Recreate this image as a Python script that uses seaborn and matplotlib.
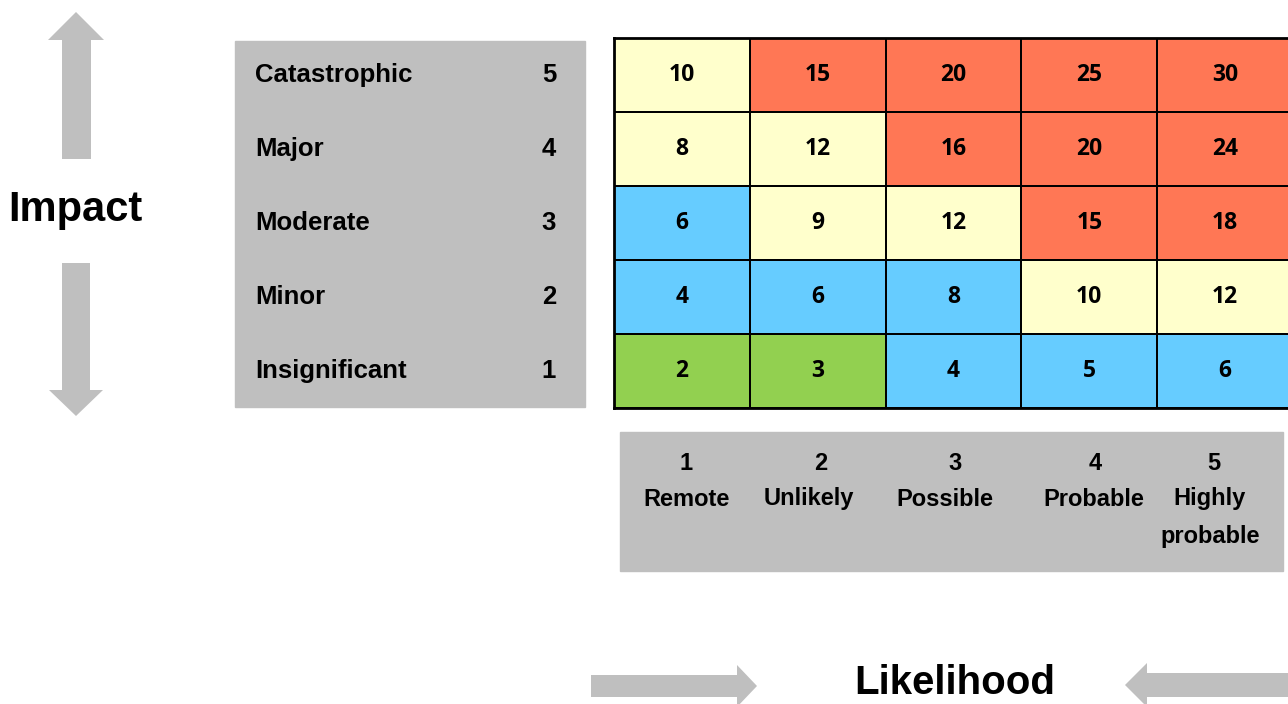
import matplotlib
matplotlib.use("Agg")
import matplotlib.pyplot as plt
import matplotlib.transforms as mtransforms
from matplotlib.colors import ListedColormap
from matplotlib.patches import Rectangle
import numpy as np
import pandas as pd
import seaborn as sns

# Datos de la matriz de riesgo
impact_labels = ["Catastrophic", "Major", "Moderate", "Minor", "Insignificant"]
impact_scores = [5, 4, 3, 2, 1]
likelihood_scores = [1, 2, 3, 4, 5]
likelihood_labels = ["Remote", "Unlikely", "Possible", "Probable", "Highly\nprobable"]

risk_values = [
    [10, 15, 20, 25, 30],
    [8, 12, 16, 20, 24],
    [6, 9, 12, 15, 18],
    [4, 6, 8, 10, 12],
    [2, 3, 4, 5, 6],
]
# 0 = bajo (verde), 1 = medio-bajo (azul), 2 = medio (amarillo), 3 = alto (rojo)
risk_levels = [
    [2, 3, 3, 3, 3],
    [2, 2, 3, 3, 3],
    [1, 2, 2, 3, 3],
    [1, 1, 1, 2, 2],
    [0, 0, 1, 1, 1],
]
level_colors = ["#92D050", "#66CCFF", "#FFFFCC", "#FF7755"]

GREY = "#BFBFBF"
FONT = ["Liberation Sans", "DejaVu Sans"]

sns.set_theme(style="white")
plt.rcParams["font.family"] = FONT
plt.rcParams["text.color"] = "black"

W, H = 1288, 704
fig = plt.figure(figsize=(W / 100, H / 100), dpi=100)

# Capa de fondo en coordenadas de pixel
bg = fig.add_axes([0, 0, 1, 1], zorder=0)
bg.set_xlim(0, W)
bg.set_ylim(H, 0)
bg.set_axis_off()

# Heatmap
x0, y0, x1, y1 = 614, 38, 1293, 408
hm = fig.add_axes([x0 / W, 1 - y1 / H, (x1 - x0) / W, (y1 - y0) / H], zorder=2)
levels_df = pd.DataFrame(risk_levels, index=impact_scores, columns=likelihood_scores)
values_df = pd.DataFrame(risk_values, index=impact_scores, columns=likelihood_scores)
sns.heatmap(
    levels_df,
    cmap=ListedColormap(level_colors),
    vmin=-0.5,
    vmax=3.5,
    annot=values_df,
    fmt="d",
    linewidths=1.4,
    linecolor="black",
    cbar=False,
    xticklabels=False,
    yticklabels=False,
    annot_kws={"fontsize": 16.5, "fontweight": "bold", "family": ["Open Sans", "DejaVu Sans"], "color": "black"},
    ax=hm,
)
for s in hm.spines.values():
    s.set_visible(True)
    s.set_color("black")
    s.set_linewidth(2)

# Caja de impacto (izquierda)
bg.add_patch(Rectangle((235, 41), 350, 366, color=GREY, zorder=1))
tr = mtransforms.blended_transform_factory(bg.transData, hm.transData)
for i, (lab, sc) in enumerate(zip(impact_labels, impact_scores)):
    bg.text(255, i + 0.5, lab, transform=tr, ha="left", va="center",
            fontsize=18.5, fontweight="bold", zorder=3)
    bg.text(549, i + 0.5, str(sc), transform=tr, ha="center", va="center",
            fontsize=18.5, fontweight="bold", zorder=3)

# Caja de probabilidad (abajo)
bg.add_patch(Rectangle((620, 432), 663, 139, color=GREY, zorder=1))
num_x = [686, 821, 955, 1095, 1214]
lab_x = [687, 809, 945, 1094, 1210]
for sc, lab, nx, lx in zip(likelihood_scores, likelihood_labels, num_x, lab_x):
    bg.text(nx, 463, str(sc), ha="center", va="center",
            fontsize=17, fontweight="bold", zorder=3)
    for k, line in enumerate(lab.split("\n")):
        bg.text(lx, 499 + 37 * k, line, ha="center", va="center",
                fontsize=17, fontweight="bold", zorder=3)

# Flechas
bg.fill([76, 104, 91, 91, 62, 62, 48], [12, 40, 40, 159, 159, 40, 40], color=GREY, lw=0)
bg.fill([76, 103, 90, 90, 62, 62, 49], [416, 390, 390, 263, 263, 390, 390], color=GREY, lw=0)
bg.fill([757, 737, 737, 591, 591, 737, 737], [686, 665, 675, 675, 697, 697, 707], color=GREY, lw=0)
bg.fill([1125, 1147, 1147, 1290, 1290, 1147, 1147], [685, 663, 673, 673, 697, 697, 707], color=GREY, lw=0)

bg.text(75, 210, "Impact", ha="center", va="center", fontsize=30, fontweight="bold")
bg.text(955, 683, "Likelihood", ha="center", va="center", fontsize=29, fontweight="bold")

fig.savefig("out.png", dpi=100)
